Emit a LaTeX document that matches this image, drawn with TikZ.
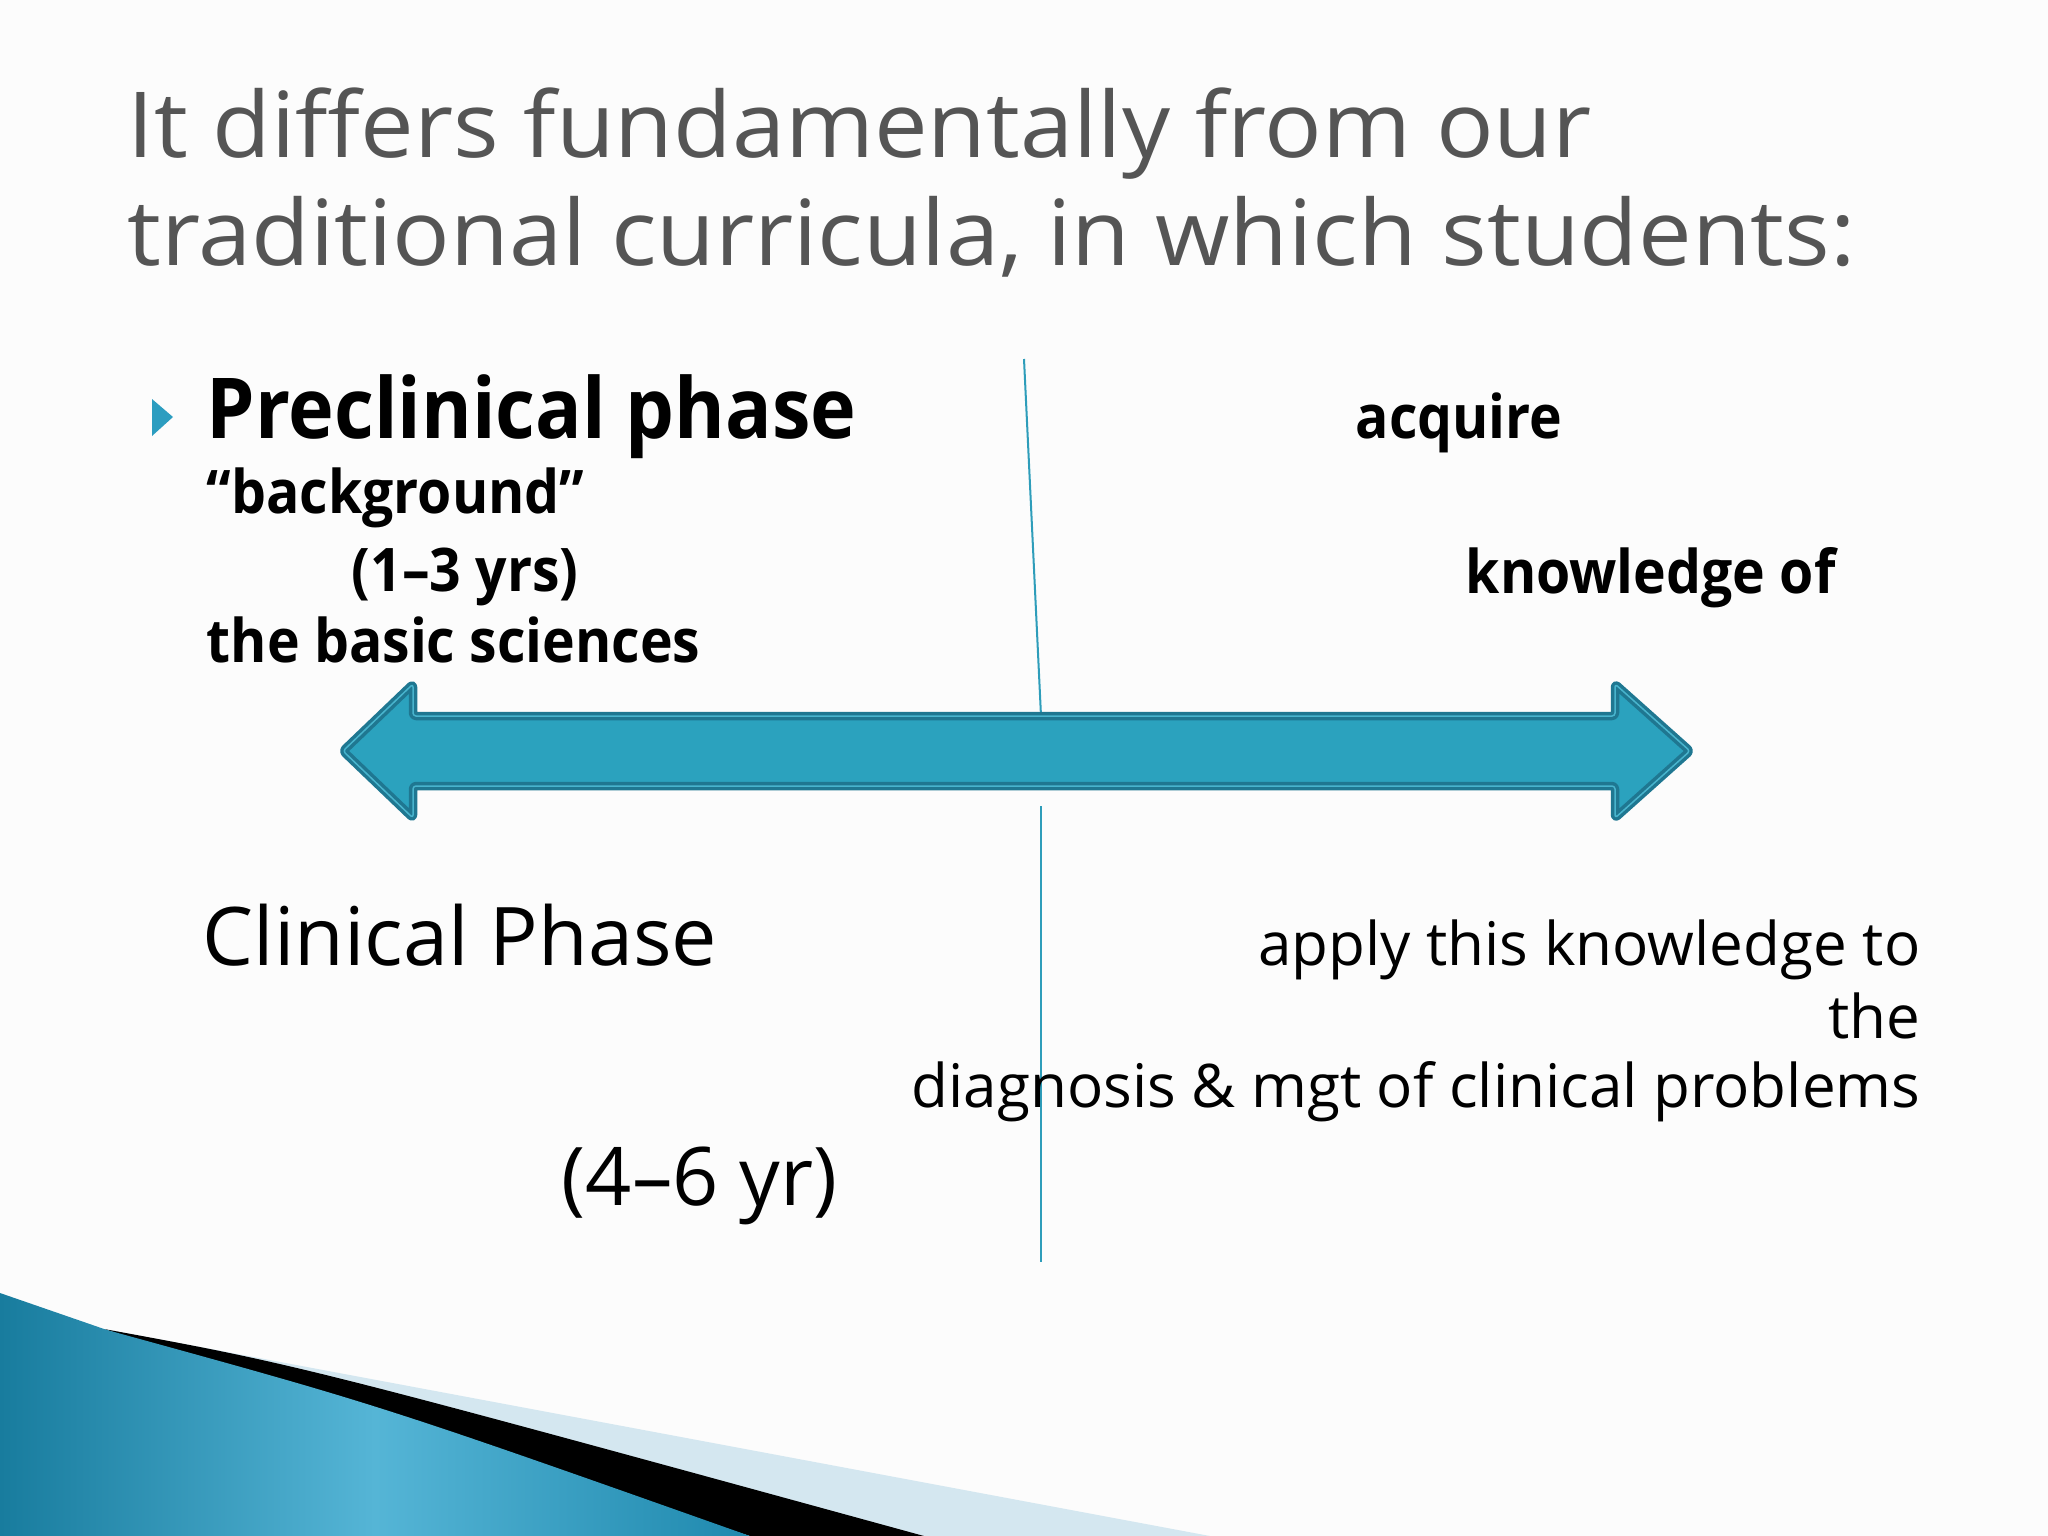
\documentclass[tikz,border=0pt]{standalone}
\usepackage{fontspec}
\setmainfont{Open Sans}
\newfontfamily\headfont[FakeStretch=1.05]{Open Sans}
\newfontfamily\narrowfont[FakeStretch=0.92]{Open Sans}
\usetikzlibrary{
    calc,
    positioning,
    %shapes.arrows,
    %shapes.geometric,
    %decorations.pathreplacing,
}
\definecolor{headgray}{HTML}{555555}
\definecolor{slidebg}{HTML}{FCFCFC}
\definecolor{spanfill}{HTML}{2BA2BE}
\definecolor{spanedge}{HTML}{1F7791}
\definecolor{spanline}{HTML}{48B4CD}
\definecolor{divline}{HTML}{2E9DBA}
\definecolor{bulletblue}{HTML}{2C9DC0}
\definecolor{flowdark}{HTML}{187C9E}
\definecolor{flowmid}{HTML}{55B5D6}
\definecolor{flowright}{HTML}{1F89AE}
\definecolor{flowpale}{HTML}{D4E7F0}

\begin{document}
\begin{tikzpicture}[x=0.01cm, y=-0.01cm,
        headtext/.style={anchor=base west, inner sep=0pt, text=headgray, font=\headfont\fontsize{25.9}{30}\selectfont},
        phasebig/.style={anchor=base west, inner sep=0pt, font=\narrowfont\bfseries\fontsize{23.9}{28}\selectfont},
        boldtext/.style={anchor=base west, inner sep=0pt, font=\narrowfont\bfseries\fontsize{17.1}{20}\selectfont},
        plainbig/.style={anchor=base west, inner sep=0pt, font=\fontsize{23}{27}\selectfont},
        plaintext/.style={anchor=base east, inner sep=0pt, font=\fontsize{17.1}{20}\selectfont},
        divider/.style={draw=divline, line width=0.02cm},
        spanarrow/.style={fill=spanfill, draw=spanedge, line width=0.035cm, double=spanline, double distance=0.015cm, rounded corners=0.03cm, line join=round},
    ]
    \useasboundingbox[fill=slidebg] (0,0) rectangle (2048,1536);

    % bottom swoosh
    \fill[flowpale] (104,1329) -- (1210,1536) -- (924,1536) -- cycle;
    \fill[black] (104,1329) .. controls (300,1365) .. (924,1536) -- (750,1536) -- cycle;
    \shade[left color=flowdark, right color=flowright, middle color=flowmid]
        (0,1293) -- (107,1330) .. controls (380,1405) .. (750,1536) -- (0,1536) -- cycle;

    % title
    \node[headtext] (TITLE1) at (127,157) {It differs fundamentally from our};
    \node[headtext, below=1.08cm of TITLE1.base west, anchor=base west] (TITLE2) {traditional curricula, in which students:};

    % divider
    \coordinate (DIVTOP) at (1024,359);
    \coordinate (DIVMID) at (1041,716);
    \coordinate (DIVLOW) at (1041,806);
    \coordinate (DIVBOT) at (1041,1262);
    \draw[divider] (DIVTOP) -- (DIVMID);
    \draw[divider] (DIVLOW) -- (DIVBOT);

    % double arrow
    \draw[spanarrow] (343,751) -- (413,684) -- (413,716) -- (1615,716) -- (1615,684)
        -- (1690,751) -- (1615,818) -- (1615,786) -- (413,786) -- (413,818) -- cycle;

    % preclinical side
    \fill[bulletblue] (152,399) -- (173,417) -- (152,436) -- cycle;
    \node[phasebig] (PRE) at (206,438) {Preclinical phase};
    \node[boldtext, below=0.75cm of PRE.base west, anchor=base west] (BG) {“background”};
    \node[boldtext, below right=0.78cm and 1.45cm of BG.base west, anchor=base west] (YRS) {(1–3 yrs)};
    \node[boldtext, below=1.49cm of BG.base west, anchor=base west] (SCI) {the basic sciences};
    \node[boldtext] (ACQ) at (1355,438) {acquire};
    \node[boldtext, below right=1.55cm and 1.10cm of ACQ.base west, anchor=base west] (KNOW) {knowledge of};

    % clinical side
    \node[plainbig] (CLIN) at (202,965) {Clinical Phase};
    \node[plainbig, below right=2.40cm and 3.59cm of CLIN.base west, anchor=base west] (YR46) {(4–6 yr)};
    \node[plaintext] (APPLY) at (1921,965) {apply this knowledge to};
    \node[plaintext, below=0.73cm of APPLY.base east, anchor=base east] (THE) {the};
    \node[plaintext, below=0.69cm of THE.base east, anchor=base east] (DIAG) {diagnosis \& mgt of clinical problems};

\end{tikzpicture}
\end{document}
